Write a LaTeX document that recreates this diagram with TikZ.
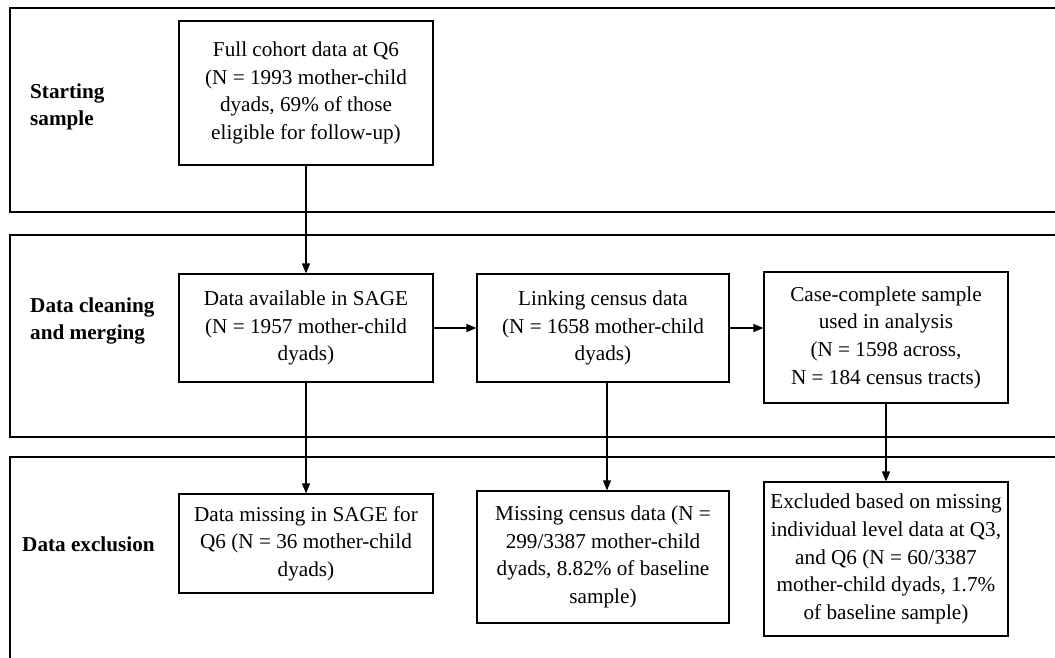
\documentclass[tikz,border=0pt]{standalone}
\usepackage{fontspec}
\setmainfont{Liberation Serif}
\usetikzlibrary{arrows.meta}
\begin{document}
\begin{tikzpicture}[x=1pt,y=-1pt,
  every node/.style={font=\fontsize{21.2}{27.6}\selectfont},
  panel/.style={draw, line width=1.3pt},
  flowbox/.style={draw, line width=1.2pt, rectangle, inner sep=0pt, align=center},
  lbl/.style={anchor=west, align=left, font=\fontsize{21.2}{27.6}\selectfont\bfseries, inner sep=0pt},
  arr/.style={line width=1.2pt, -{Triangle[length=10pt,width=8pt]}}]
\clip (0,0) rectangle (1055,658);
\fill[white] (0,0) rectangle (1055,658);
% panels
\draw[panel] (10,8) rectangle (1070,212);
\draw[panel] (10,235) rectangle (1070,437);
\draw[panel] (10,457) rectangle (1070,680);
% labels
\node[lbl] (l1) at (30,107) {Starting\\sample};
\node[lbl] (l2) at (30,321) {Data cleaning\\and merging};
\node[lbl] (l3) at (22,544) {Data exclusion};
% boxes
\node[flowbox, minimum width=254, minimum height=144] (b1) at (306,93)
  {Full cohort data at Q6\\(N = 1993 mother-child\\dyads, 69\% of those\\eligible for follow-up)};
\node[flowbox, minimum width=254, minimum height=108] (b2) at (306,328)
  {Data available in SAGE\\(N = 1957 mother-child\\dyads)};
\node[flowbox, minimum width=252, minimum height=108] (b3) at (603,328)
  {Linking census data\\(N = 1658 mother-child\\dyads)};
\node[flowbox, minimum width=244, minimum height=131] (b4) at (886,337.5)
  {Case-complete sample\\used in analysis\\(N = 1598 across,\\N = 184 census tracts)};
\node[flowbox, minimum width=254, minimum height=99] (b5) at (306,543.5)
  {Data missing in SAGE for\\Q6 (N = 36 mother-child\\dyads)};
\node[flowbox, minimum width=252, minimum height=132] (b6) at (603,557)
  {Missing census data (N =\\299/3387 mother-child\\dyads, 8.82\% of baseline\\sample)};
\node[flowbox, minimum width=244, minimum height=154] (b7) at (886,559)
  {Excluded based on missing\\individual level data at Q3,\\and Q6 (N = 60/3387\\mother-child dyads, 1.7\%\\of baseline sample)};
% connectors
\draw[arr] (b1) -- (b2);
\draw[arr] (b2) -- (b3);
\draw[arr] (b3) -- (b4.west |- b3.east);
\draw[arr] (b2) -- (b5);
\draw[arr] ([xshift=4]b3.south) -- ([xshift=4]b6.north);
\draw[arr] (b4) -- (b7);
\end{tikzpicture}
\end{document}
